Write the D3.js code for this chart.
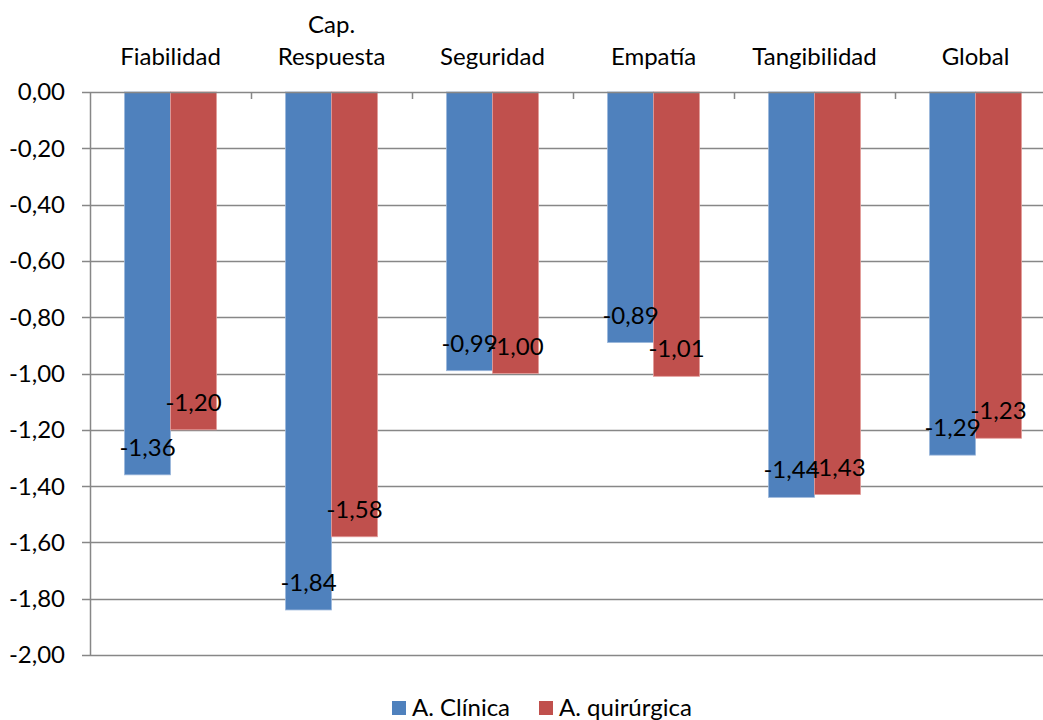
<!DOCTYPE html>
<html>
<head>
<meta charset="utf-8">
<script src="https://cdn.jsdelivr.net/npm/d3@7"></script>
<style>
  html, body { margin: 0; padding: 0; background: #fff; }
  svg { display: block; font-family: Lato, "Open Sans", sans-serif; }
</style>
</head>
<body>
<svg id="chart" width="1043" height="720"></svg>
<script>
// Dimensions of service quality (gap scores) per area
const categories = [["Fiabilidad"], ["Cap.", "Respuesta"], ["Seguridad"], ["Empatía"], ["Tangibilidad"], ["Global"]];
const seriesNames = ["A. Clínica", "A. quirúrgica"];
const clinica = [-1.36, -1.84, -0.99, -0.89, -1.44, -1.29];
const quirurgica = [-1.20, -1.58, -1.00, -1.01, -1.43, -1.23];
const yTicks = [0, -0.2, -0.4, -0.6, -0.8, -1.0, -1.2, -1.4, -1.6, -1.8, -2.0];
const colors = ["#4F81BD", "#C0504D"];
const edgeColors = ["#9BB7DB", "#E39C9A"];

const catKeys = categories.map(c => c.join(" "));
const series = [clinica, quirurgica];

const svg = d3.select("#chart");
const fmt = v => d3.format(".2f")(v).replace("−", "-").replace(".", ",");
const fontSize = 24;

const plotLeft = 90, plotRight = 1056, plotTop = 92, plotBottom = 655;
const y = d3.scaleLinear().domain([0, -2]).range([plotTop, plotBottom]);
const x0 = d3.scaleBand().domain(catKeys).range([plotLeft, plotRight]).padding(0);
const x1 = d3.scaleBand().domain(seriesNames).range([0, x0.bandwidth()])
  .paddingInner(0).paddingOuter(0.75);

const gridColor = "#878787";

// horizontal gridlines with short outward ticks on the value axis
svg.append("g").selectAll("line").data(yTicks.slice(1)).join("line")
  .attr("x1", plotLeft - 8).attr("x2", plotRight)
  .attr("y1", d => Math.round(y(d)) + 0.5).attr("y2", d => Math.round(y(d)) + 0.5)
  .attr("stroke", gridColor).attr("stroke-width", 1.5);

// bars
const groups = svg.append("g").selectAll("g").data(catKeys).join("g")
  .attr("transform", d => `translate(${x0(d)},0)`);
groups.selectAll("rect").data((d, i) => seriesNames.map((s, j) => ({ s, j, v: series[j][i] })))
  .join("rect")
  .attr("x", d => x1(d.s))
  .attr("y", y(0))
  .attr("width", x1.bandwidth())
  .attr("height", d => y(d.v) - y(0))
  .attr("fill", d => colors[d.j])
  .attr("stroke", d => edgeColors[d.j])
  .attr("stroke-width", 0.8);

// category axis along the zero line, ticks pointing down
svg.append("line")
  .attr("x1", plotLeft - 8).attr("x2", plotRight)
  .attr("y1", y(0) + 0.5).attr("y2", y(0) + 0.5)
  .attr("stroke", gridColor).attr("stroke-width", 1.5);
svg.append("g").selectAll("line").data(catKeys.slice(1)).join("line")
  .attr("x1", d => Math.round(x0(d)) + 0.5).attr("x2", d => Math.round(x0(d)) + 0.5)
  .attr("y1", y(0)).attr("y2", y(0) + 7)
  .attr("stroke", gridColor).attr("stroke-width", 1.5);

// value axis line
svg.append("line")
  .attr("x1", plotLeft + 0.5).attr("x2", plotLeft + 0.5)
  .attr("y1", y(0)).attr("y2", y(-2) + 1)
  .attr("stroke", gridColor).attr("stroke-width", 1.5);

// value axis labels
svg.append("g").selectAll("text").data(yTicks).join("text")
  .attr("x", 65).attr("y", d => y(d))
  .attr("dy", "0.35em")
  .attr("text-anchor", "end")
  .attr("font-size", fontSize)
  .attr("fill", "#000")
  .text(fmt);

// category labels above the plot
const catText = svg.append("g").selectAll("text").data(categories).join("text")
  .attr("text-anchor", "middle")
  .attr("font-size", fontSize)
  .attr("fill", "#000")
  .attr("transform", (d, i) => `translate(${x0(catKeys[i]) + x0.bandwidth() / 2},${65})`);
catText.selectAll("tspan").data(d => d.map((t, k) => ({ t, k, n: d.length }))).join("tspan")
  .attr("x", 0)
  .attr("y", d => (d.k - (d.n - 1)) * 32)
  .text(d => d.t);

// data labels just inside the bar ends
groups.selectAll("text.val").data((d, i) => seriesNames.map((s, j) => ({ s, j, v: series[j][i] })))
  .join("text")
  .attr("class", "val")
  .attr("x", d => x1(d.s) + x1.bandwidth() / 2)
  .attr("y", d => y(d.v) - 19)
  .attr("text-anchor", "middle")
  .attr("font-size", fontSize)
  .attr("fill", "#000")
  .text(d => fmt(d.v));

// legend
const legend = svg.append("g").attr("transform", "translate(392,701)");
const legendX = [0, 147];
seriesNames.forEach((s, j) => {
  const g = legend.append("g").attr("transform", `translate(${legendX[j]},0)`);
  g.append("rect").attr("width", 14).attr("height", 14).attr("fill", colors[j]);
  g.append("text").attr("x", 20).attr("y", 15).attr("font-size", fontSize).attr("fill", "#000").text(s);
});
</script>
</body>
</html>
